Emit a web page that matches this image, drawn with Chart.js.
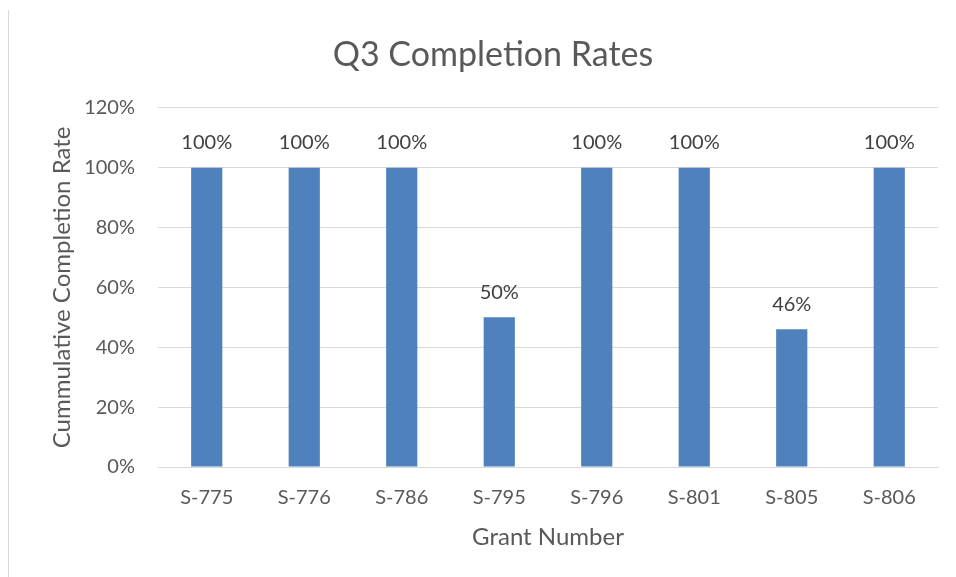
<!DOCTYPE html>
<html>
<head>
<meta charset="utf-8">
<script src="https://cdn.jsdelivr.net/npm/chart.js@4/dist/chart.umd.min.js"></script>
<style>
  html, body { margin: 0; padding: 0; background: #fff; }
  .frame { position: relative; width: 956px; height: 577px; }
  .frame:before { content: ''; position: absolute; left: 8px; top: 10px; bottom: 0; border-left: 1px solid #d9d9d9; }
  canvas { display: block; }
</style>
</head>
<body>
<div class="frame"><canvas id="chart" width="956" height="577"></canvas></div>
<script>
const grants = ['S-775', 'S-776', 'S-786', 'S-795', 'S-796', 'S-801', 'S-805', 'S-806'];
const completionRates = [100, 100, 100, 50, 100, 100, 46, 100];
const yTicks = [0, 20, 40, 60, 80, 100, 120];

const FONT = 'Lato, "Open Sans", sans-serif';
const TEXT = '#595959';

// draws the value above each bar (no datalabels plugin offline)
const barLabels = {
  id: 'barLabels',
  afterDatasetsDraw(chart) {
    const ctx = chart.ctx;
    const meta = chart.getDatasetMeta(0);
    ctx.save();
    ctx.font = '20px ' + FONT;
    ctx.fillStyle = '#404040';
    ctx.textAlign = 'center';
    ctx.textBaseline = 'middle';
    meta.data.forEach((bar, i) => {
      ctx.fillText(completionRates[i] + '%', bar.x, bar.y - 25);
    });
    ctx.restore();
  }
};

new Chart(document.getElementById('chart'), {
  type: 'bar',
  data: {
    labels: grants,
    datasets: [{
      data: completionRates,
      backgroundColor: '#4f81bd',
      barPercentage: 0.32,
      categoryPercentage: 1
    }]
  },
  options: {
    responsive: false,
    animation: false,
    layout: { padding: { left: 48, right: 18, top: 35, bottom: 25 } },
    plugins: {
      legend: { display: false },
      tooltip: { enabled: false },
      title: {
        display: true,
        text: 'Q3 Completion Rates',
        color: TEXT,
        font: { family: FONT, size: 34, weight: 'normal' },
        padding: { top: 0, bottom: 32 }
      }
    },
    scales: {
      x: {
        afterFit(scale) { scale.height = 85; },
        grid: { display: false, drawTicks: false },
        border: { color: '#d9d9d9' },
        ticks: { color: TEXT, font: { family: FONT, size: 20 }, padding: 19 },
        title: { display: true, text: 'Grant Number', color: TEXT, font: { family: FONT, size: 24 }, padding: { top: 12, bottom: 0 } }
      },
      y: {
        min: 0,
        max: 120,
        afterBuildTicks(scale) { scale.ticks = yTicks.map(v => ({ value: v })); },
        afterFit(scale) { scale.width = 110; },
        grid: { color: '#d9d9d9', drawTicks: false },
        border: { display: false },
        ticks: { color: TEXT, font: { family: FONT, size: 20 }, padding: 23, callback: v => v + '%' },
        title: { display: true, text: 'Cummulative Completion Rate', color: TEXT, font: { family: FONT, size: 24 }, padding: { top: 0, bottom: 0 } }
      }
    }
  },
  plugins: [barLabels]
});
</script>
</body>
</html>
